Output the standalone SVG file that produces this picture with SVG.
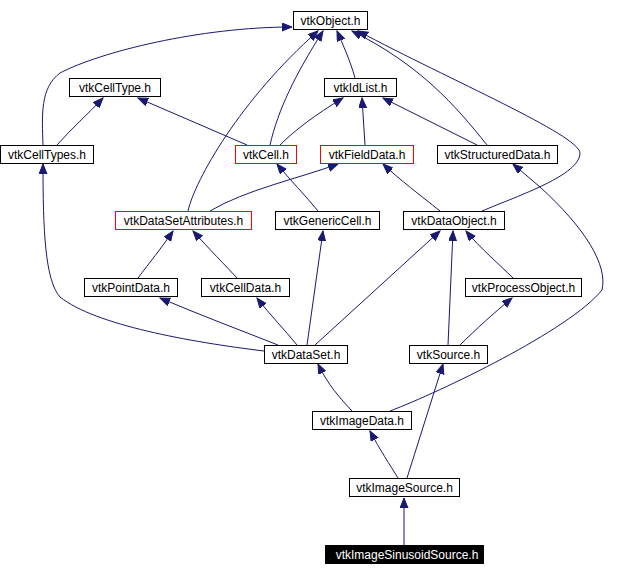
<svg xmlns="http://www.w3.org/2000/svg" width="633" height="576" viewBox="0 0 633 576">
<style>
.n rect{fill:#fff;stroke:#000;stroke-width:1}
.n rect.r{stroke:#ff0000}
.n.cur rect{fill:#000;stroke:#000}
.n text{font-family:"Liberation Sans",Arial,sans-serif;font-size:12px;text-anchor:middle;fill:#000}
.n.cur text{fill:#fff}
.e path{fill:none;stroke:#191970;stroke-width:1;marker-end:url(#ah)}
</style>
<defs>
<marker id="ah" markerUnits="userSpaceOnUse" markerWidth="11" markerHeight="9" refX="10" refY="4" orient="auto">
<path d="M0,0 L10,4 L0,8 z" fill="#191970" stroke="#191970" stroke-width="1"/>
</marker>
</defs>
<rect width="633" height="576" fill="#fff"/>
<g id="edges" class="e">
<path d="M43,145 C42,115 40,88 60,73 C100,52 200,27 292,27"/>
<path d="M57,145 C72,128 88,114 103,98"/>
<path d="M247,145 L138,98"/>
<path d="M270,145 C278,110 295,75 323,31"/>
<path d="M280,145 C295,130 315,115 343,98"/>
<path d="M365,145 L362,98"/>
<path d="M477,145 L383,98"/>
<path d="M487,145 C455,105 420,65 352,31"/>
<path d="M355,78 C350,60 343,45 337,31"/>
<path d="M482,211 C520,195 580,175 580,153 C579,135 450,80 358,31"/>
<path d="M188,211 C195,180 240,100 318,31"/>
<path d="M210,211 C245,190 300,178 338,164"/>
<path d="M318,211 C305,195 290,180 277,164"/>
<path d="M440,211 C420,195 400,180 383,164"/>
<path d="M390,411 C440,392 570,330 602,290 C608,265 585,228 540,187 L513,164"/>
<path d="M138,278 C150,262 160,250 173,231"/>
<path d="M237,278 C225,265 210,250 193,231"/>
<path d="M264,351 C190,342 95,325 60,297 C45,280 43,230 43,164"/>
<path d="M278,345 C240,330 200,315 160,298"/>
<path d="M297,345 C285,330 270,315 257,298"/>
<path d="M307,345 L323,231"/>
<path d="M315,345 L440,231"/>
<path d="M448,345 L453,231"/>
<path d="M513,278 C500,265 480,248 466,231"/>
<path d="M460,345 C475,330 495,312 512,298"/>
<path d="M352,411 C340,398 328,385 318,364"/>
<path d="M398,478 C390,465 380,450 370,431"/>
<path d="M407,478 L443,364"/>
<path d="M404,545 L404,498"/>
</g>
<g id="vtkObject" class="n"><rect x="293.5" y="11.5" width="74" height="18"/><text x="330.5" y="25">vtkObject.h</text></g>
<g id="vtkCellType" class="n"><rect x="69.5" y="78.5" width="91" height="18"/><text x="115" y="92">vtkCellType.h</text></g>
<g id="vtkIdList" class="n"><rect x="324.5" y="78.5" width="72" height="18"/><text x="360.5" y="92">vtkIdList.h</text></g>
<g id="vtkCellTypes" class="n"><rect x="0.5" y="145.5" width="93" height="18"/><text x="47" y="159">vtkCellTypes.h</text></g>
<g id="vtkCell" class="n"><rect class="r" x="235.5" y="145.5" width="61" height="18"/><text x="266" y="159">vtkCell.h</text></g>
<g id="vtkFieldData" class="n"><rect class="r" x="320.5" y="145.5" width="93" height="18"/><text x="367" y="159">vtkFieldData.h</text></g>
<g id="vtkStructuredData" class="n"><rect x="437.5" y="145.5" width="120" height="18"/><text x="497.5" y="159">vtkStructuredData.h</text></g>
<g id="vtkDataSetAttributes" class="n"><rect class="r" x="115.5" y="211.5" width="136" height="18"/><text x="183.5" y="225">vtkDataSetAttributes.h</text></g>
<g id="vtkGenericCell" class="n"><rect x="275.5" y="211.5" width="104" height="18"/><text x="327.5" y="225">vtkGenericCell.h</text></g>
<g id="vtkDataObject" class="n"><rect x="403.5" y="211.5" width="101" height="18"/><text x="454" y="225">vtkDataObject.h</text></g>
<g id="vtkPointData" class="n"><rect x="84.5" y="278.5" width="93" height="18"/><text x="131" y="292">vtkPointData.h</text></g>
<g id="vtkCellData" class="n"><rect x="201.5" y="278.5" width="88" height="18"/><text x="245.5" y="292">vtkCellData.h</text></g>
<g id="vtkProcessObject" class="n"><rect x="465.5" y="278.5" width="116" height="18"/><text x="523.5" y="292">vtkProcessObject.h</text></g>
<g id="vtkDataSet" class="n"><rect x="264.5" y="345.5" width="83" height="18"/><text x="306" y="359">vtkDataSet.h</text></g>
<g id="vtkSource" class="n"><rect x="409.5" y="345.5" width="78" height="18"/><text x="448.5" y="359">vtkSource.h</text></g>
<g id="vtkImageData" class="n"><rect x="312.5" y="411.5" width="99" height="18"/><text x="362" y="425">vtkImageData.h</text></g>
<g id="vtkImageSource" class="n"><rect x="349.5" y="478.5" width="110" height="18"/><text x="404.5" y="492">vtkImageSource.h</text></g>
<g id="vtkImageSinusoidSource" class="n cur"><rect x="325.5" y="545.5" width="158" height="18"/><text x="407" y="559">vtkImageSinusoidSource.h</text></g>
</svg>
